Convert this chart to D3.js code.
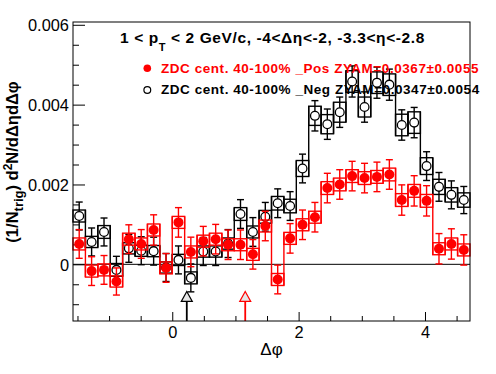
<!DOCTYPE html>
<html>
<head>
  <script src="https://d3js.org/d3.v7.min.js"></script>
  <style>
    body { margin: 0; background: white; }
    svg { font-family: "Liberation Sans", Arial, Helvetica, sans-serif; }
    .tick text { font-size: 16.4px; fill: black; }
    .tick line { stroke: black; }
  </style>
</head>
<body>
  <script>
    // histogram definition: 32 bins in delta phi
    var nBins = 32;
    var phiMin = -Math.PI / 2, phiMax = 3 * Math.PI / 2;

    // _Neg (open black circles)
    var negValues = [0.00121, 0.00056, 0.00081, -0.00014, 0.00040, 0.00034, 0.00033, -0.00008,
                     0.00011, -0.00034, 0.00032, 0.00032, 0.00052, 0.00126, 0.00081, 0.00119,
                     0.00153, 0.00146, 0.00240, 0.00372, 0.00351, 0.00381, 0.00458, 0.00394,
                     0.00455, 0.00450, 0.00349, 0.00355, 0.00246, 0.00194, 0.00174, 0.00161];
    var negStat = [0.00035, 0.00035, 0.00035, 0.00034, 0.00035, 0.00035, 0.00035, 0.00035,
                   0.00035, 0.00035, 0.00035, 0.00035, 0.00035, 0.00036, 0.00036, 0.00036,
                   0.00036, 0.00036, 0.00036, 0.00038, 0.00038, 0.00038, 0.00039, 0.00038,
                   0.00039, 0.00039, 0.00038, 0.00038, 0.00036, 0.00036, 0.00035, 0.00034];
    var negSys = [0.00015, 0.00014, 0.00016, 0.00016, 0.00014, 0.00014, 0.00014, 0.00014,
                  0.00014, 0.00015, 0.00014, 0.00014, 0.00014, 0.00016, 0.00015, 0.00016,
                  0.00017, 0.00017, 0.00020, 0.00024, 0.00024, 0.00025, 0.00027, 0.00025,
                  0.00027, 0.00027, 0.00027, 0.00027, 0.00021, 0.00019, 0.00018, 0.00018];

    // _Pos (filled red circles)
    var posValues = [0.00051, -0.00017, -0.00014, -0.00043, 0.00063, 0.00051, 0.00086, -0.00009,
                     0.00105, 0.00031, 0.00058, 0.00063, 0.00049, 0.00049, 0.00025, 0.00096,
                     -0.00038, 0.00065, 0.00099, 0.00118, 0.00191, 0.00200, 0.00221, 0.00216,
                     0.00219, 0.00225, 0.00161, 0.00184, 0.00159, 0.00039, 0.00051, 0.00036];
    var posStat = [0.00036, 0.00036, 0.00036, 0.00034, 0.00036, 0.00036, 0.00038, 0.00036,
                   0.00037, 0.00037, 0.00037, 0.00037, 0.00037, 0.00037, 0.00037, 0.00037,
                   0.00036, 0.00037, 0.00037, 0.00037, 0.00037, 0.00037, 0.00037, 0.00037,
                   0.00037, 0.00037, 0.00038, 0.00038, 0.00038, 0.00038, 0.00038, 0.00038];
    var posSys = [0.00015, 0.00015, 0.00015, 0.00014, 0.00015, 0.00015, 0.00015, 0.00015,
                  0.00015, 0.00015, 0.00015, 0.00015, 0.00015, 0.00015, 0.00015, 0.00015,
                  0.00015, 0.00015, 0.00015, 0.00015, 0.00016, 0.00016, 0.00016, 0.00016,
                  0.00016, 0.00016, 0.00016, 0.00016, 0.00016, 0.00015, 0.00015, 0.00015];

    // ZYAM minimum markers (arrows): [Neg, Pos]
    var arrowPhi = [0.23, 1.155];
    var arrowTip = [-0.00068, -0.00068];
    var arrowColors = ["black", "red"];

    var yTicks = [0, 0.002, 0.004, 0.006];
    var yTickLabels = ["0", "0.002", "0.004", "0.006"];
    var yMinorTicks = [-0.001, -0.0005, 0.0005, 0.001, 0.0015, 0.0025, 0.003, 0.0035, 0.0045, 0.005, 0.0055];
    var xTicks = [0, 2, 4];
    var xTickLabels = ["0", "2", "4"];
    var xMinorTicks = [-1.5, -1, -0.5, 0.5, 1, 1.5, 2.5, 3, 3.5, 4.5];

    var legendLabels = ["ZDC cent. 40-100% _Pos ZYAM=0.0367\u00b10.0055",
                        "ZDC cent. 40-100% _Neg ZYAM=0.0347\u00b10.0054"];

    var width = 496, height = 374;
    var frameLeft = 73, frameRight = 470, frameTop = 22, frameBottom = 321;

    var binWidth = (phiMax - phiMin) / nBins;
    var centers = d3.range(nBins).map(function (i) { return phiMin + (i + 0.5) * binWidth; });

    var x = d3.scaleLinear().domain([phiMin, phiMax]).range([frameLeft, frameRight]);
    var y = d3.scaleLinear().domain([-0.00142, 0.00607]).range([frameBottom, frameTop]);

    var svg = d3.select("body")
      .append("svg")
      .attr("width", width)
      .attr("height", height);

    // axes (ROOT style: ticks inside the frame)
    var yAxis = d3.axisLeft(y)
      .tickValues(yTicks)
      .tickFormat(function (d, i) { return yTickLabels[i]; })
      .tickSizeInner(-12).tickSizeOuter(0).tickPadding(4);
    var gy = svg.append("g").attr("transform", "translate(" + frameLeft + ",0)").call(yAxis);
    gy.select(".domain").remove();
    gy.selectAll(".tick text").attr("dy", "0.36em");

    var gym = svg.append("g").attr("transform", "translate(" + frameLeft + ",0)")
      .call(d3.axisLeft(y).tickValues(yMinorTicks).tickFormat("").tickSizeInner(-6).tickSizeOuter(0));
    gym.select(".domain").remove();

    var xAxis = d3.axisBottom(x)
      .tickValues(xTicks)
      .tickFormat(function (d, i) { return xTickLabels[i]; })
      .tickSizeInner(-9).tickSizeOuter(0).tickPadding(5);
    var gx = svg.append("g").attr("transform", "translate(0," + frameBottom + ")").call(xAxis);
    gx.select(".domain").remove();

    var gxm = svg.append("g").attr("transform", "translate(0," + frameBottom + ")")
      .call(d3.axisBottom(x).tickValues(xMinorTicks).tickFormat("").tickSizeInner(-5).tickSizeOuter(0));
    gxm.select(".domain").remove();

    // zero line
    svg.append("line")
      .attr("x1", frameLeft).attr("x2", frameRight)
      .attr("y1", y(0)).attr("y2", y(0))
      .attr("stroke", "black").attr("stroke-width", 1);

    function drawSeries(values, stat, sys, color, filled) {
      var g = svg.append("g");
      // systematic boxes
      g.selectAll("rect.sys")
        .data(values)
        .enter().append("rect")
        .attr("class", "sys")
        .attr("x", function (d, i) { return x(centers[i] - binWidth / 2); })
        .attr("width", x(phiMin + binWidth) - x(phiMin))
        .attr("y", function (d, i) { return y(d + sys[i]); })
        .attr("height", function (d, i) { return y(d - sys[i]) - y(d + sys[i]); })
        .attr("fill", "none")
        .attr("stroke", color)
        .attr("stroke-width", 1.4);
      // vertical joins between neighbouring boxes (step outline)
      g.selectAll("line.join")
        .data(values.slice(0, -1))
        .enter().append("line")
        .attr("class", "join")
        .attr("x1", function (d, i) { return x(centers[i] + binWidth / 2); })
        .attr("x2", function (d, i) { return x(centers[i] + binWidth / 2); })
        .attr("y1", function (d, i) { return y(Math.max(d + sys[i], values[i + 1] + sys[i + 1])); })
        .attr("y2", function (d, i) { return y(Math.min(d - sys[i], values[i + 1] - sys[i + 1])); })
        .attr("stroke", color).attr("stroke-width", 1.4);
      // stat error bars
      g.selectAll("line.err")
        .data(values)
        .enter().append("line")
        .attr("class", "err")
        .attr("x1", function (d, i) { return x(centers[i]); })
        .attr("x2", function (d, i) { return x(centers[i]); })
        .attr("y1", function (d, i) { return y(d + stat[i]); })
        .attr("y2", function (d, i) { return y(d - stat[i]); })
        .attr("stroke", color).attr("stroke-width", 1.4);
      [1, -1].forEach(function (s) {
        g.selectAll("line.cap" + (s > 0 ? "hi" : "lo"))
          .data(values)
          .enter().append("line")
          .attr("class", "cap" + (s > 0 ? "hi" : "lo"))
          .attr("x1", function (d, i) { return x(centers[i]) - 3.5; })
          .attr("x2", function (d, i) { return x(centers[i]) + 3.5; })
          .attr("y1", function (d, i) { return y(d + s * stat[i]); })
          .attr("y2", function (d, i) { return y(d + s * stat[i]); })
          .attr("stroke", color).attr("stroke-width", 1.4);
      });
      // markers
      g.selectAll("circle")
        .data(values)
        .enter().append("circle")
        .attr("cx", function (d, i) { return x(centers[i]); })
        .attr("cy", function (d) { return y(d); })
        .attr("r", filled ? 5 : 4.4)
        .attr("fill", filled ? color : "white")
        .attr("stroke", filled ? "none" : color)
        .attr("stroke-width", 1.3);
    }

    drawSeries(negValues, negStat, negSys, "black", false);
    drawSeries(posValues, posStat, posSys, "red", true);

    // ZYAM arrows
    arrowPhi.forEach(function (p, i) {
      var xa = x(p), ya = y(arrowTip[i]);
      svg.append("line")
        .attr("x1", xa).attr("x2", xa)
        .attr("y1", ya + 10).attr("y2", frameBottom)
        .attr("stroke", arrowColors[i]).attr("stroke-width", 1.8);
      svg.append("path")
        .attr("d", "M" + xa + "," + ya + "L" + (xa + 5.5) + "," + (ya + 10) + "L" + (xa - 5.5) + "," + (ya + 10) + "Z")
        .attr("fill", "#e6e6e6")
        .attr("stroke", arrowColors[i]).attr("stroke-width", 1.2);
    });

    // frame
    svg.append("rect")
      .attr("x", frameLeft).attr("y", frameTop)
      .attr("width", frameRight - frameLeft).attr("height", frameBottom - frameTop)
      .attr("fill", "none").attr("stroke", "black").attr("stroke-width", 1);

    // title
    var title = svg.append("text")
      .attr("x", 120).attr("y", 43.3)
      .attr("font-size", 15.5).attr("font-weight", "bold")
      .attr("letter-spacing", 0.6);
    title.append("tspan").text("1 < p");
    title.append("tspan").attr("dy", 8).attr("font-size", 11).text("T");
    title.append("tspan").attr("dy", -8).text(" < 2 GeV/c, -4<\u0394\u03b7<-2, -3.3<\u03b7<-2.8");

    // legend
    var legendColors = ["red", "black"];
    legendLabels.forEach(function (lab, i) {
      var ly = 68.3 + i * 21.7;
      svg.append("circle")
        .attr("cx", 147.3).attr("cy", ly)
        .attr("r", i === 0 ? 3.8 : 3.4)
        .attr("fill", i === 0 ? "red" : "white")
        .attr("stroke", i === 0 ? "none" : "black")
        .attr("stroke-width", 1.2);
      svg.append("text")
        .attr("x", 161).attr("y", ly + 4.2)
        .attr("font-size", 13.5).attr("font-weight", "bold")
        .attr("letter-spacing", 0.55)
        .attr("fill", legendColors[i])
        .text(lab);
    });

    // axis titles
    svg.append("text")
      .attr("x", (frameLeft + frameRight) / 2).attr("y", 355)
      .attr("text-anchor", "middle")
      .attr("font-size", 17)
      .text("\u0394\u03c6");

    var yt = svg.append("text")
      .attr("transform", "translate(18,162) rotate(-90)")
      .attr("text-anchor", "middle")
      .attr("font-size", 16.5).attr("font-weight", "bold");
    yt.append("tspan").text("(1/N");
    yt.append("tspan").attr("dy", 5).attr("font-size", 13).text("trig");
    yt.append("tspan").attr("dy", -5).text(") d");
    yt.append("tspan").attr("dy", -6).attr("font-size", 12).text("2");
    yt.append("tspan").attr("dy", 6).text("N/d\u0394\u03b7d\u0394\u03c6");
  </script>
</body>
</html>
